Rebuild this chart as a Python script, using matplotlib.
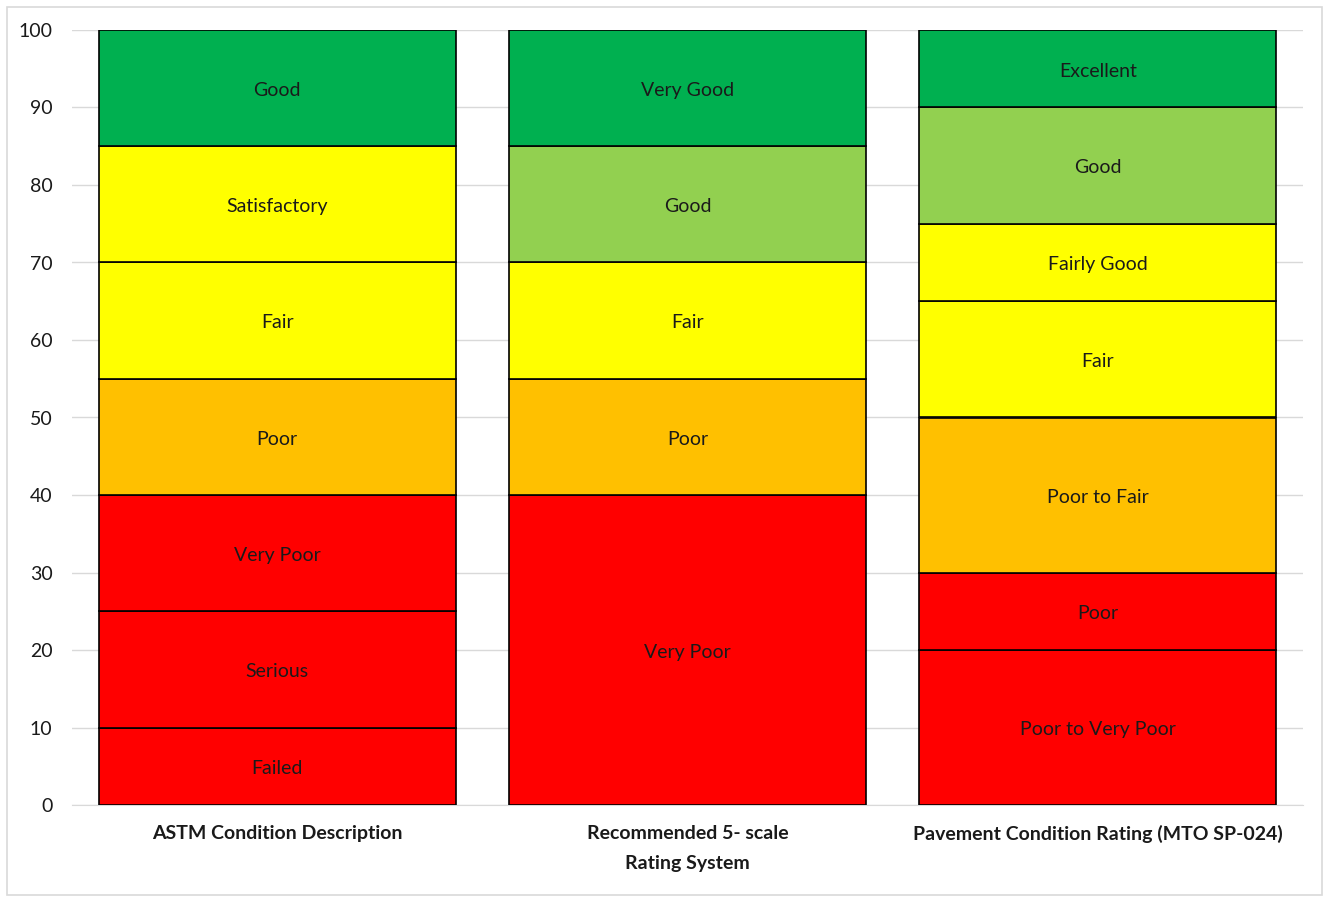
import numpy as np
import matplotlib.pyplot as plt
from matplotlib.patches import Rectangle

# ============================================================
# DATA
# ============================================================

categories = ["ASTM Condition Description",
              "Recommended 5- scale\nRating System",
              "Pavement Condition Rating (MTO SP-024)"]

astm_labels = ["Failed", "Serious", "Very Poor", "Poor", "Fair", "Satisfactory", "Good"]
astm_sizes = [10, 15, 15, 15, 15, 15, 15]
astm_colors = ["#FF0000", "#FF0000", "#FF0000", "#FFC000", "#FFFF00", "#FFFF00", "#00B050"]

rec_labels = ["Very Poor", "Poor", "Fair", "Good", "Very Good"]
rec_sizes = [40, 15, 15, 15, 15]
rec_colors = ["#FF0000", "#FFC000", "#FFFF00", "#92D050", "#00B050"]

mto_labels = ["Poor to Very Poor", "Poor", "Poor to Fair", "Fair", "Fairly Good", "Good", "Excellent"]
mto_sizes = [20, 10, 20, 15, 10, 15, 10]
mto_colors = ["#FF0000", "#FF0000", "#FFC000", "#FFFF00", "#FFFF00", "#92D050", "#00B050"]

stacks = [(astm_labels, astm_sizes, astm_colors),
          (rec_labels, rec_sizes, rec_colors),
          (mto_labels, mto_sizes, mto_colors)]

# ============================================================
# PLOT
# ============================================================

plt.rcParams["font.family"] = ["Lato", "DejaVu Sans"]

fig = plt.figure(figsize=(13.29, 8.97), dpi=100)
ax = fig.add_axes([72 / 1329, 92 / 897, 1231 / 1329, 775 / 897])

# light frame round the whole chart
fig.patches.append(Rectangle((7 / 1329, 2 / 897), 1315 / 1329, 888 / 897,
                             transform=fig.transFigure, fill=False,
                             edgecolor="#D9D9D9", linewidth=1.2))

x = np.arange(len(categories))
width = 0.87

for i, (labels, sizes, colors) in enumerate(stacks):
    bottom = 0
    for lab, size, col in zip(labels, sizes, colors):
        ax.bar(x[i], size, width, bottom=bottom, color=col,
               edgecolor="black", linewidth=1.2, zorder=3)
        ax.text(x[i], bottom + size / 2 - 0.3, lab, ha="center", va="center",
                fontsize=14, color="#1a1a1a", zorder=4)
        bottom += size

ax.set_xlim(-0.5, 2.5)
ax.set_ylim(0, 100)
ax.set_yticks(np.arange(0, 101, 10))
ax.set_xticks(x)
ax.set_xticklabels(categories, fontsize=14, fontweight="bold",
                   color="#1a1a1a", linespacing=1.95)
ax.tick_params(axis="y", length=0, pad=14, labelsize=14, labelcolor="#1a1a1a")
ax.tick_params(axis="x", length=0, pad=14.5)

ax.grid(axis="y", color="#D9D9D9", linewidth=1.0, zorder=0)
for sp in ax.spines.values():
    sp.set_visible(False)
ax.spines["bottom"].set_visible(True)
ax.spines["bottom"].set_color("#D9D9D9")

plt.savefig("out.png", dpi=100)
plt.close()
